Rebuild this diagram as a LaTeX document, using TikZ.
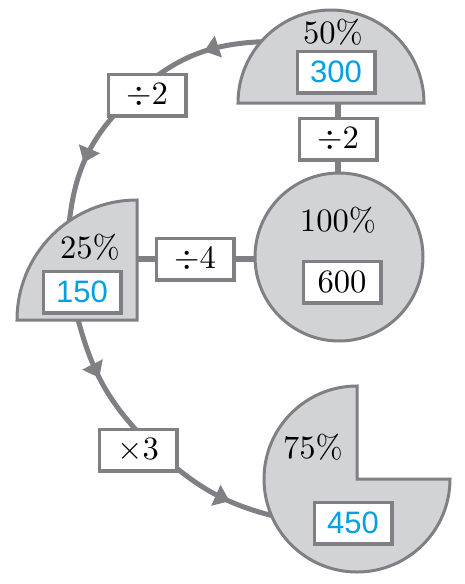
\documentclass[tikz,border=0pt]{standalone}
\usepackage{fontspec}
\usepackage{amsmath}
\usepackage{graphicx}
\usepackage{tikz}
\usetikzlibrary{arrows.meta,decorations.markings}
\newfontfamily\numfont{Liberation Sans}
\definecolor{cLine}{RGB}{128,128,132}
\definecolor{cFill}{RGB}{210,211,213}
\definecolor{cBlue}{RGB}{0,160,227}
\newcommand{\bigtxt}[1]{\scalebox{1.63}{\fontsize{10}{12}\selectfont #1}}

\begin{document}
\begin{tikzpicture}[x=0.5pt,y=-0.5pt,
  piece/.style={fill=cFill,draw=cLine,line width=1.5pt},
  opbox/.style={draw=cLine,fill=white,line width=1.6pt,minimum width=38.9pt,minimum height=20.9pt,inner sep=0pt},
  valbox/.style={opbox,text=cBlue,font=\fontsize{15.5}{18}\selectfont\numfont},
  pct/.style={inner sep=0pt},
  link/.style={draw=cLine,line width=3pt},
  loopline/.style={color=cLine,line width=2.5pt},
  midarrow/.style={postaction={decorate},decoration={markings,mark=at position #1 with {\arrow{Triangle[length=7.5pt,width=11pt]}}}}]
  \useasboundingbox (0,0) rectangle (465,584);
  % points on the loop
  \coordinate (a50) at (264.4,41.6);
  \coordinate (k1) at (133,96);
  \coordinate (a25) at (69.1,223.7);
  \coordinate (b25) at (76.9,315);
  \coordinate (k2) at (156,450);
  \coordinate (a75) at (289.4,519.6);
  % points for the straight links
  \coordinate (b50) at (338,100);
  \coordinate (t100) at (338,176);
  \coordinate (r25) at (134,259);
  \coordinate (l100) at (258,259);
  % loop
  \draw[loopline,midarrow=0.42] (a50) to[bend right=20.5] (k1);
  \draw[loopline,midarrow=0.57] (k1) to[bend right=20.5] (a25);
  \draw[loopline,midarrow=0.42] (b25) to[bend right=16.2] (k2);
  \draw[loopline,midarrow=0.59] (k2) to[bend right=15.6] (a75);
  % links
  \draw[link] (b50) -- (t100);
  \draw[link] (r25) -- (l100);
  % half disc
  \draw[piece] (238,103) arc[start angle=180,end angle=360,radius=93] -- cycle;
  % quarter disc
  \draw[piece] (137,320) -- (17,320) arc[start angle=180,end angle=270,radius=120] -- cycle;
  % full disc
  \draw[piece] (339,257) circle[radius=84];
  % three quarter disc
  \draw[piece] (357,479) -- (450,479) arc[start angle=0,end angle=270,radius=93] -- cycle;
  % labels
  \node[pct] (p50) at (333,32) {\bigtxt{50\%}};
  \node[valbox] (v300) at (336,72) {300};
  \node[opbox] (d2b) at (338,139) {\bigtxt{$\div 2$}};
  \node[pct] (p100) at (338,220) {\bigtxt{100\%}};
  \node[opbox] (v600) at (342,282) {\bigtxt{600}};
  \node[pct] (p25) at (90,247) {\bigtxt{25\%}};
  \node[valbox] (v150) at (82,292) {150};
  \node[opbox] (d4) at (195,259) {\bigtxt{$\div 4$}};
  \node[opbox] (d2a) at (147,95) {\bigtxt{$\div 2$}};
  \node[opbox] (m3) at (138,450) {\bigtxt{$\times 3$}};
  \node[pct] (p75) at (313,447) {\bigtxt{75\%}};
  \node[valbox] (v450) at (353,523) {450};
\end{tikzpicture}
\end{document}
